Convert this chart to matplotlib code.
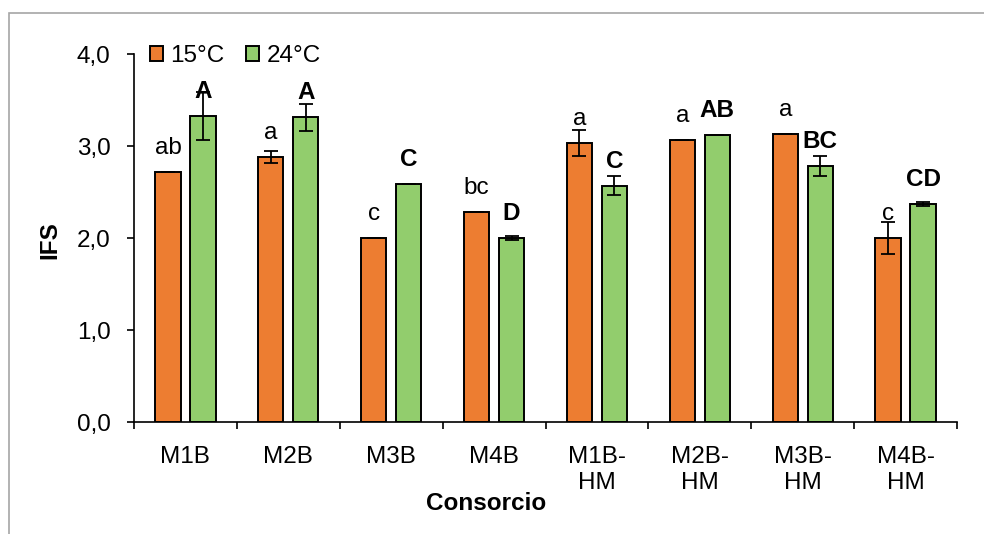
import numpy as np
import matplotlib
matplotlib.use("Agg")
import matplotlib.pyplot as plt
from matplotlib.patches import Rectangle
from matplotlib.ticker import FuncFormatter

plt.rcParams["font.family"] = ["Liberation Sans", "DejaVu Sans"]

# --- data ---
consorcios = ["M1B", "M2B", "M3B", "M4B", "M1B-\nHM", "M2B-\nHM", "M3B-\nHM", "M4B-\nHM"]
ifs_15 = [2.72, 2.88, 2.00, 2.28, 3.03, 3.07, 3.13, 2.00]
err_15 = [0.0, 0.07, 0.0, 0.0, 0.14, 0.0, 0.0, 0.17]
ifs_24 = [3.33, 3.31, 2.59, 2.00, 2.57, 3.12, 2.78, 2.37]
err_24 = [0.26, 0.15, 0.0, 0.02, 0.105, 0.0, 0.11, 0.025]
letras_15 = ["ab", "a", "c", "bc", "a", "a", "a", "c"]
letras_24 = ["A", "A", "C", "D", "C", "AB", "BC", "CD"]

c15 = "#ED7D31"
c24 = "#92CD6D"
fs = 17.5

fig = plt.figure(figsize=(9.84, 5.34), dpi=100)
ax = fig.add_axes([134 / 984, 1 - 422 / 534, 823 / 984, 368 / 534])

# gray frame around the chart area
fig.patches.append(Rectangle((9 / 984, -0.1), 2.0, 1 - 13 / 534 + 0.1,
                             transform=fig.transFigure, fill=False,
                             edgecolor="#A6A6A6", linewidth=1.2))

x = np.arange(len(consorcios))
w = 0.245
off = 0.17

ax.bar(x - off, ifs_15, w, color=c15, edgecolor="black", linewidth=1.4,
       label="15°C", zorder=2)
ax.bar(x + off, ifs_24, w, color=c24, edgecolor="black", linewidth=1.4,
       label="24°C", zorder=2)

ekw = dict(fmt="none", ecolor="black", elinewidth=1.3, capsize=5, capthick=1.3, zorder=3)
ax.errorbar(x - off, ifs_15, yerr=err_15, **ekw)
ax.errorbar(x + off, ifs_24, yerr=err_24, **ekw)

# significance letters (placed from the bar top, as in the original)
for i in range(len(consorcios)):
    ax.annotate(letras_15[i], (x[i] - off, ifs_15[i]),
                xytext=(0, 13), textcoords="offset points",
                ha="center", va="baseline", fontsize=fs, zorder=4)
    ax.annotate(letras_24[i], (x[i] + off, ifs_24[i]),
                xytext=(0, 13), textcoords="offset points",
                ha="center", va="baseline", fontsize=fs, fontweight="bold", zorder=4)

ax.set_xlim(-0.5, len(consorcios) - 0.5)
ax.set_ylim(0, 4)
ax.set_yticks(np.arange(0, 4.1, 1.0))
ax.yaxis.set_major_formatter(FuncFormatter(lambda v, p: f"{v:.1f}".replace(".", ",")))

# ticks at category boundaries, labels at centres
ax.set_xticks(np.arange(-0.5, len(consorcios), 1.0))
ax.set_xticklabels([])
ax.set_xticks(x, minor=True)
ax.set_xticklabels(consorcios, minor=True, fontsize=fs, linespacing=1.28)
ax.tick_params(axis="x", which="major", length=5, width=1.2, color="black")
ax.tick_params(axis="x", which="minor", length=0, pad=17)
ax.tick_params(axis="y", length=5, width=1.2, labelsize=fs, pad=12)

for s in ["top", "right"]:
    ax.spines[s].set_visible(False)
for s in ["left", "bottom"]:
    ax.spines[s].set_linewidth(1.2)

ax.text(0.428, -81 / 368, "Consorcio", transform=ax.transAxes,
        ha="center", va="center", fontsize=fs, fontweight="bold")
ax.text(-84 / 823, 0.495, "IFS", transform=ax.transAxes, rotation=90,
        ha="center", va="center", fontsize=fs, fontweight="bold")

ax.legend(loc="center left", bbox_to_anchor=(16 / 823, 366 / 368), ncol=2,
          frameon=False, fontsize=fs, handlelength=0.53, handleheight=0.53,
          handletextpad=0.3, columnspacing=0.9, borderpad=0, borderaxespad=0)

fig.savefig("out.png", dpi=100)
